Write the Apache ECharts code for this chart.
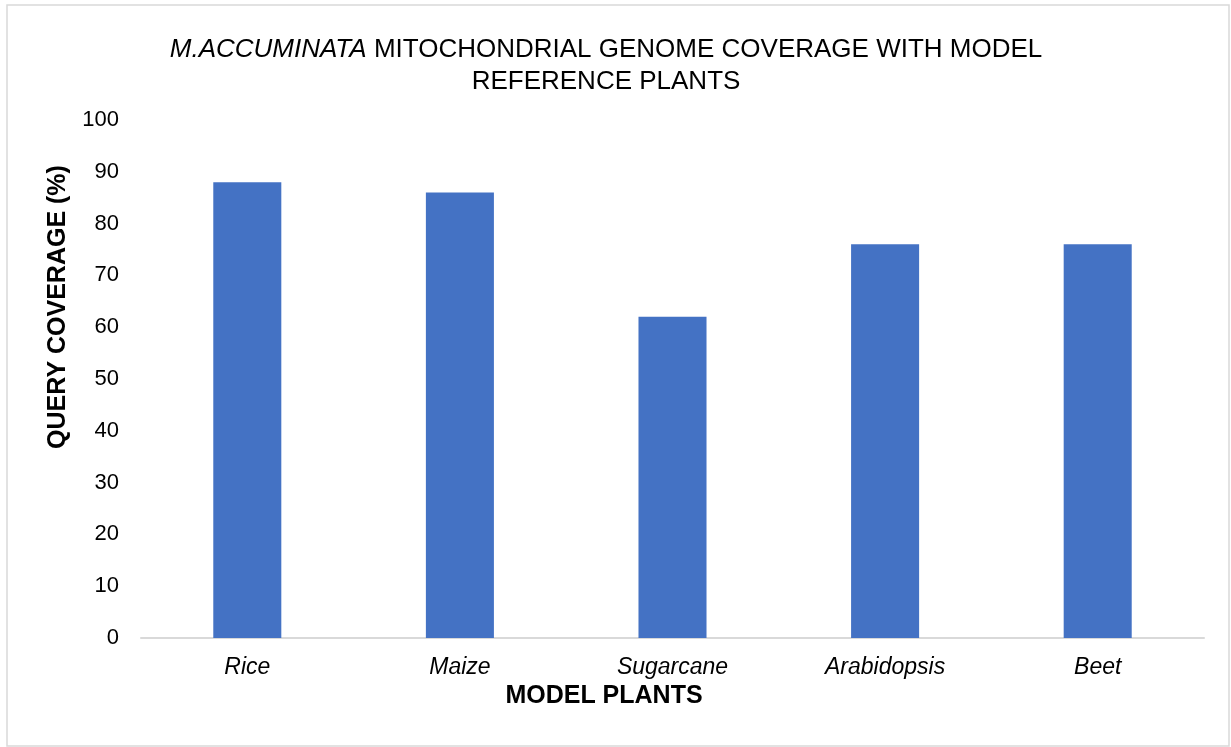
<!DOCTYPE html>
<html>
<head>
<meta charset="utf-8">
<script src="https://cdn.jsdelivr.net/npm/echarts@6/dist/echarts.min.js"></script>
<style>
  html, body { margin: 0; padding: 0; background: #fff; }
  #chart { width: 1231px; height: 747px; }
</style>
</head>
<body>
<div id="chart"></div>
<script>
// plants and their query coverage (%)
var plants = ['Rice', 'Maize', 'Sugarcane', 'Arabidopsis', 'Beet'];
var coverage = [88, 86, 62, 76, 76];

var font = 'Liberation Sans, Arial, sans-serif';
var chart = echarts.init(document.getElementById('chart'));

chart.setOption({
    animation: false,
    title: {
        text: '{i|M.ACCUMINATA} MITOCHONDRIAL GENOME COVERAGE WITH MODEL\nREFERENCE PLANTS',
        left: 601,
        top: 29,
        textAlign: 'center',
        textStyle: {
            fontFamily: font,
            fontSize: 26,
            fontWeight: 'normal',
            color: '#000',
            lineHeight: 32,
            rich: {
                i: { fontFamily: font, fontSize: 26, fontStyle: 'italic', color: '#000', lineHeight: 32 }
            }
        }
    },
    grid: { left: 141, right: 27, top: 120, bottom: 109 },
    xAxis: {
        type: 'category',
        data: plants,
        axisTick: { show: false },
        axisLine: { lineStyle: { color: '#d9d9d9', width: 2 } },
        axisLabel: {
            margin: 18,
            fontFamily: font,
            fontSize: 23,
            fontStyle: 'italic',
            color: '#000'
        }
    },
    yAxis: {
        type: 'value',
        min: 0,
        max: 100,
        interval: 10,
        splitLine: { show: false },
        axisLine: { show: false },
        axisTick: { show: false },
        axisLabel: { margin: 22, fontFamily: font, fontSize: 22, color: '#000' }
    },
    graphic: [
        {
            type: 'rect',
            shape: { x: 7, y: 5, width: 1222, height: 741 },
            style: { fill: 'none', stroke: '#d9d9d9', lineWidth: 1.5 },
            silent: true
        },
        {
            type: 'text',
            x: 604,
            y: 696,
            style: {
                text: 'MODEL PLANTS',
                font: 'bold 25px ' + font,
                fill: '#000',
                textAlign: 'center',
                textVerticalAlign: 'middle'
            }
        },
        {
            type: 'text',
            x: 58,
            y: 307,
            rotation: Math.PI / 2,
            style: {
                text: 'QUERY COVERAGE (%)',
                font: 'bold 25px ' + font,
                fill: '#000',
                textAlign: 'center',
                textVerticalAlign: 'middle'
            }
        }
    ],
    series: [{
        type: 'bar',
        data: coverage,
        barWidth: '32%',
        itemStyle: { color: '#4472c4' }
    }]
});
</script>
</body>
</html>
